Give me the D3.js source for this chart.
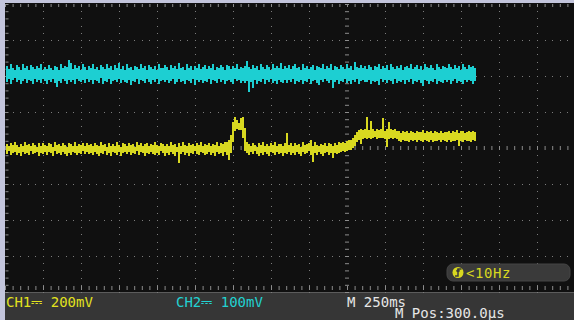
<!DOCTYPE html>
<html>
<head>
<meta charset="utf-8">
<script src="https://cdn.jsdelivr.net/npm/d3@7"></script>
<style>
  html, body { margin: 0; padding: 0; background: #363636; }
  svg { display: block; }
  text { font-family: "DejaVu Sans Mono", monospace; font-size: 14px; }
</style>
</head>
<body>
<svg id="scope" width="574" height="320"></svg>
<script>
  // stored trace, one min/max pair per display column (peak detect)
  const tStart = -2243.4;   // ms, first column
  const tStep = 13.158;     // ms per column

  // CH1 (yellow), mV
  const ch1Hi = [
    22,9,28,14,31,18,7,25,12,33,16,21,10,29,19,8,26,13,30,17,
    11,27,20,8,32,15,24,10,29,18,6,26,21,13,31,9,23,17,28,12,
    30,14,24,9,27,19,11,33,16,22,7,28,13,25,10,31,18,8,26,20,
    12,29,17,23,8,32,15,26,11,20,28,9,24,14,33,18,10,27,21,13,
    25,10,31,16,22,8,28,13,35,19,11,30,15,24,9,27,17,32,12,21,
    18,28,11,24,15,31,9,26,20,33,36,45,70,145,172,158,140,166,175,110,
    35,24,12,29,16,8,27,19,31,13,23,10,28,17,32,11,25,20,9,30,
    83,14,26,11,29,18,24,8,31,15,21,27,42,12,33,19,9,25,16,28,
    13,30,20,9,26,17,32,28,34,29,38,42,46,58,75,90,100,104,98,106,
    172,100,150,106,95,108,99,104,167,97,106,144,103,98,108,96,92,86,94,89,
    93,86,96,88,84,95,90,87,98,85,92,89,97,84,93,88,86,95,85,91,
    89,96,85,93,88,100,86,92,97,84,90,95,87,93,88
  ];
  const ch1Lo = [
    -31,-19,-40,-26,-22,-37,-28,-44,-20,-33,-25,-41,-18,-35,-29,-23,-42,-27,-36,-21,
    -38,-24,-30,-43,-19,-34,-27,-39,-22,-32,-45,-25,-37,-20,-29,-41,-26,-35,-18,-33,
    -23,-36,-28,-40,-21,-31,-44,-25,-34,-19,-38,-27,-42,-22,-30,-37,-24,-43,-29,-20,
    -35,-22,-41,-27,-33,-19,-39,-24,-30,-44,-26,-36,-21,-32,-40,-25,-37,-18,-29,-42,
    -26,-38,-20,-31,-43,-24,-85,-34,-22,-40,-28,-45,-25,-36,-19,-33,-41,-23,-30,-39,
    -32,-21,-39,-27,-42,-24,-35,-29,-44,-22,-38,-68,-25,35,95,105,100,98,55,-15,
    -28,-40,-23,-35,-19,-31,-44,-26,-37,-21,-33,-42,-24,-30,-39,-20,-36,-27,-43,-25,
    -34,-22,-38,-27,-41,-20,-32,-45,-24,-36,-29,-19,-40,-80,-26,-37,-23,-33,-42,-28,
    -21,-39,-30,-58,-25,-35,-28,-22,-18,-20,-14,-12,-10,-2,12,32,46,22,50,56,
    52,58,48,55,60,50,57,53,56,49,5,52,58,51,55,48,40,36,44,38,
    41,34,43,37,45,35,42,39,33,44,38,36,43,35,41,37,45,32,42,39,
    36,43,35,41,38,44,11,40,34,42,37,41,35,44,39
  ];

  // CH2 (cyan), mV
  const ch2Hi = [
    228,219,233,222,216,230,225,218,234,221,227,217,231,224,219,229,222,232,217,226,
    220,231,223,218,229,226,216,233,221,228,224,244,235,219,230,222,227,217,232,225,
    218,229,222,234,220,226,217,231,224,219,233,221,228,216,230,223,237,220,227,218,
    232,221,226,217,229,224,219,234,222,228,216,231,225,220,229,218,233,223,221,230,
    224,217,231,222,228,219,235,221,226,218,232,223,229,217,227,221,233,220,225,230,
    219,228,222,233,218,226,221,230,224,217,231,227,220,229,223,234,219,226,222,228,
    241,225,219,231,222,228,217,233,224,220,230,226,218,232,221,227,223,235,219,229,
    223,230,219,227,232,221,226,218,234,222,229,220,225,231,217,228,224,222,233,219,
    227,221,232,218,229,224,220,231,226,219,233,222,228,217,238,225,221,230,223,229,
    220,231,224,218,229,226,233,219,227,222,230,217,234,224,220,228,223,231,218,226,
    229,222,233,219,226,231,220,228,217,232,225,221,230,223,218,234,226,220,229,224,
    221,232,226,219,230,223,228,217,233,225,220,231,224,229,222
  ];
  const ch2Lo = [
    184,191,179,188,194,182,189,177,186,192,180,190,185,178,193,183,188,181,191,186,
    179,189,184,192,181,170,187,180,193,185,178,190,183,188,177,191,186,182,189,180,
    192,183,188,178,190,185,181,194,179,187,184,191,177,186,189,182,193,180,188,184,
    181,190,176,187,183,192,179,188,185,180,191,184,178,189,182,193,177,186,190,183,
    189,180,186,192,178,184,191,182,187,179,190,185,181,193,176,188,183,189,180,186,
    183,191,178,188,185,180,192,184,189,177,186,190,182,179,191,185,188,181,187,180,
    187,155,184,166,190,179,186,182,191,178,188,183,192,180,185,177,189,184,181,190,
    180,188,183,191,177,186,182,190,179,187,184,192,178,185,189,181,176,188,183,191,
    186,181,189,168,184,190,178,187,182,192,180,185,179,188,183,191,177,186,189,182,
    184,190,179,187,182,185,176,191,183,188,180,189,186,178,192,181,187,184,190,179,
    188,182,191,178,186,183,189,180,172,190,185,179,187,182,191,177,186,184,180,189,
    183,189,177,186,191,180,187,184,179,190,182,188,185,178,186
  ];

  const ch1Label = "CH1\u2393 200mV";
  const ch2Label = "CH2\u2393 100mV";
  const timebaseLabel = "M 250ms";
  const posLabel = "M Pos:300.0\u00b5s";
  const trigLabel = "<10Hz";

  const yellow = "#d8d820";
  const cyan = "#1dcfd2";

  const svg = d3.select("#scope");

  // screen geometry: 15 x 8 divisions visible (250 ms/div)
  const xScale = d3.scaleLinear().domain([-2250, 1500]).range([5, 575]);
  const yDiv = d3.scaleLinear().domain([-4, 4]).range([292, 4]);
  const y1 = d3.scaleLinear().domain([-800, 800]).range([292, 4]);   // 200 mV/div
  const y2 = d3.scaleLinear().domain([-400, 400]).range([292, 4]);   // 100 mV/div

  // frame
  svg.append("rect").attr("width", 574).attr("height", 320).attr("fill", "#363636");
  svg.append("rect").attr("x", 5).attr("y", 3).attr("width", 569).attr("height", 289).attr("fill", "#101010");
  svg.append("rect").attr("x", 0).attr("y", 0).attr("width", 574).attr("height", 3).attr("fill", "#c3c5dc");
  svg.append("rect").attr("x", 0).attr("y", 0).attr("width", 5).attr("height", 320).attr("fill", "#c3c5dc");
  svg.append("line").attr("x1", 5).attr("x2", 574).attr("y1", 292.5).attr("y2", 292.5)
    .attr("stroke", "#5c5c5c");

  // graticule dots
  const majorX = d3.range(-2000, 1501, 250).filter(d => d !== 0);
  const majorY = d3.range(-3, 4, 1).filter(d => d !== 0);
  const minorX = d3.range(-2250, 1501, 50);
  const minorY = d3.range(-4, 4.001, 0.2).map(d => +d.toFixed(1));

  const grid = svg.append("g").attr("fill", "#7c7c7c");
  majorX.forEach(t => {
    minorY.forEach(v => {
      grid.append("rect").attr("x", Math.round(xScale(t))).attr("y", Math.round(yDiv(v)))
        .attr("width", 1).attr("height", 1);
    });
  });
  majorY.forEach(v => {
    minorX.forEach(t => {
      grid.append("rect").attr("x", Math.round(xScale(t))).attr("y", Math.round(yDiv(v)))
        .attr("width", 1).attr("height", 1);
    });
  });

  // tick marks on borders and centre axes
  function ticks(axis, tx, ty) {
    const g = svg.append("g").attr("transform", `translate(${tx},${ty})`).call(axis);
    g.select(".domain").remove();
    g.selectAll("line").attr("stroke", "#8c8c8c");
    g.selectAll("text").remove();
  }
  ticks(d3.axisBottom(xScale).tickValues(minorX).tickSize(3).tickFormat(""), 0, 4);
  ticks(d3.axisTop(xScale).tickValues(minorX).tickSize(4).tickFormat(""), 0, 290);
  ticks(d3.axisRight(yDiv).tickValues(minorY).tickSize(3).tickFormat(""), 5.5, 0);
  ticks(d3.axisBottom(xScale).tickValues(minorX).tickSize(4).tickFormat(""), 0, yDiv(0) - 2);
  ticks(d3.axisRight(yDiv).tickValues(minorY).tickSize(4).tickFormat(""), xScale(0) - 2, 0);

  // traces
  function drawTrace(hi, lo, yScale, color) {
    const cols = d3.range(Math.min(hi.length, lo.length));
    svg.append("g").attr("fill", color).attr("shape-rendering", "crispEdges")
      .selectAll("rect")
      .data(cols)
      .join("rect")
      .attr("x", i => xScale(tStart + i * tStep))
      .attr("width", i => xScale(tStart + (i + 1) * tStep) - xScale(tStart + i * tStep))
      .attr("y", i => yScale(hi[i]))
      .attr("height", i => Math.max(1, yScale(lo[i]) - yScale(hi[i])));
  }
  drawTrace(ch2Hi, ch2Lo, y2, cyan);
  drawTrace(ch1Hi, ch1Lo, y1, yellow);

  // trigger frequency box
  svg.append("rect").attr("x", 447).attr("y", 264).attr("width", 123).attr("height", 17)
    .attr("rx", 6).attr("fill", "#3a3a3a").attr("stroke", "#454545");
  svg.append("circle").attr("cx", 458).attr("cy", 272.5).attr("r", 5.5).attr("fill", yellow);
  svg.append("path").attr("d", "M455,276 L458,276 L458,269 L461.5,269 M456.5,271.5 L458,269.5 L459.5,271.5")
    .attr("fill", "none").attr("stroke", "#3a3a3a").attr("stroke-width", 1.5);
  svg.append("text").attr("x", 466).attr("y", 278).attr("fill", yellow)
    .attr("letter-spacing", "0.6px").text(trigLabel);

  // status bar
  svg.append("text").attr("x", 6).attr("y", 307).attr("fill", "#e2e21e").text(ch1Label);
  svg.append("text").attr("x", 176).attr("y", 307).attr("fill", "#22d2d2").text(ch2Label);
  svg.append("text").attr("x", 347).attr("y", 307).attr("fill", "#e6e6e6").text(timebaseLabel);
  svg.append("text").attr("x", 395).attr("y", 318).attr("fill", "#e6e6e6").text(posLabel);
</script>
</body>
</html>
